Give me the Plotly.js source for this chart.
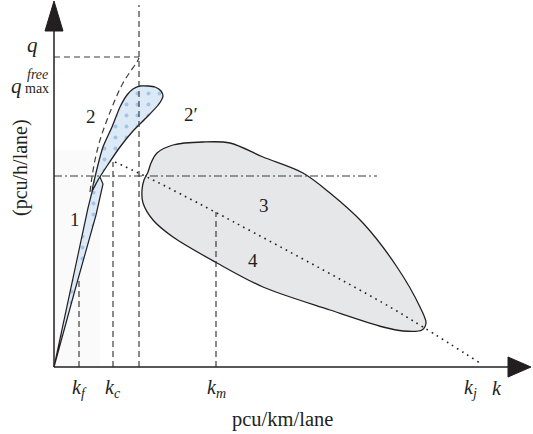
<!DOCTYPE html>
<html>
<head>
<meta charset="utf-8">
<script src="https://cdn.plot.ly/plotly-3.0.1.min.js"></script>
<style>
  html, body { margin: 0; padding: 0; background: #ffffff; }
  #chart { width: 533px; height: 434px; }
</style>
</head>
<body>
<div id="chart"></div>
<script>
// Density k (horizontal) and flow q (vertical), in the diagram's own units.

// Characteristic densities
const kF = 25;      // k_f
const kC = 59;      // k_c
const kQ = 85;      // density at the free-flow maximum
const kM = 162;     // k_m
const kJ = 416;     // k_j
// Characteristic flows
const qFreeMax = 310;   // q_max^free
const qCap = 191;       // capacity level (dash-dot)
// Upper ends of the vertical guide lines at kF, kC, kQ, kM
const guideTops = [90, 205, 362, 155];

// Region 1 (free-flow band)
const region1K = [0, 20, 34, 41, 46, 49, 42, 21, 0];
const region1Q = [0, 95, 159, 187, 190, 183, 152, 77, 0];

// Region 2 (metastable band)
const region2K = [38, 41, 49, 58, 66, 73, 79, 86, 94, 101, 107, 109, 105, 93, 79, 66, 53, 44, 38];
const region2Q = [176, 190, 220, 240, 260, 272, 278, 281, 281, 280, 276, 271, 263, 250, 236, 220, 201, 187, 176];

// Extension of the free-flow branch up to q_max^free
const freeBranchK = [36, 38, 41, 46, 53, 61, 69, 76, 83, 85];
const freeBranchQ = [175, 190, 207, 227, 247, 267, 284, 295, 305, 309];

// Regions 3 and 4 (congested cloud)
const congestedK = [88, 89, 99, 119, 163, 209, 276, 329, 349, 368, 372, 366, 343, 309, 276, 249, 209, 176, 149, 119, 103, 97, 94, 90, 88];
const congestedQ = [177, 164, 147, 130, 104, 80, 57, 40, 36, 37, 44, 60, 100, 144, 174, 194, 210, 224, 225, 222, 214, 204, 195, 187, 177];

// Congested branch (dotted)
const congBranchK = [61, 99, 161, 329, 369, 426];
const congBranchQ = [205, 187, 155, 64, 40, 4];

// Axis extents
const kAxisEnd = 454, kAxisTip = 477;
const qAxisEnd = 336, qAxisTip = 366;

// Text
const kTickLabels = ['<i>k</i><sub><i>f</i></sub>', '<i>k</i><sub><i>c</i></sub>', '<i>k</i><sub><i>m</i></sub>', '<i>k</i><sub><i>j</i></sub>', '<i>k</i>'];
const kTickPos = [kF, kC, kM, kJ, 443];
const regionLabels = ['1', '2', '2′', '3', '4'];
const regionLabelK = [21, 37, 137, 210, 199];
const regionLabelQ = [148, 251, 253, 162, 107];
const xTitle = 'pcu/km/lane';
const yTitle = '(pcu/h/lane)';

const INK = '#231f20';
const GUIDE = '#3c3c3c';
const FONT = 'Liberation Serif, Times New Roman, serif';
const BAND = { shape: '.', bgcolor: '#dce9f6', fgcolor: '#a3c4e8', size: 11, solidity: 0.1 };

const traces = [
  {
    x: congestedK, y: congestedQ, mode: 'lines', fill: 'toself',
    fillcolor: '#e6e7e9',
    line: { color: INK, width: 1.3, shape: 'spline', smoothing: 0.9 },
    hoverinfo: 'skip'
  },
  {
    x: region1K, y: region1Q, mode: 'lines', fill: 'toself',
    fillcolor: '#dce9f6', fillpattern: BAND,
    line: { color: INK, width: 1.2 },
    hoverinfo: 'skip'
  },
  {
    x: region2K, y: region2Q, mode: 'lines', fill: 'toself',
    fillcolor: '#dce9f6', fillpattern: BAND,
    line: { color: INK, width: 1.3, shape: 'spline', smoothing: 0.6 },
    hoverinfo: 'skip'
  },
  {
    x: freeBranchK, y: freeBranchQ, mode: 'lines',
    line: { color: GUIDE, width: 1.2, dash: '6px,4px', shape: 'spline' },
    hoverinfo: 'skip'
  },
  {
    x: congBranchK, y: congBranchQ, mode: 'lines',
    line: { color: INK, width: 1.6, dash: '1.6px,4.4px', shape: 'spline' },
    hoverinfo: 'skip'
  }
];

const shapes = [];
// faint shading of the free-flow zone
shapes.push({
  type: 'rect', xref: 'x', yref: 'y', x0: 0, x1: 46, y0: 0, y1: 217, layer: 'below',
  fillcolor: '#fafafa', line: { width: 0 }
});
const guideK = [kF, kC, kQ, kM];
guideK.forEach((k, i) => {
  shapes.push({
    type: 'line', xref: 'x', yref: 'y', x0: k, x1: k, y0: 0, y1: guideTops[i],
    line: { color: GUIDE, width: 1.2, dash: '6px,4px' }
  });
});
// q_max^free level
shapes.push({
  type: 'line', xref: 'x', yref: 'y', x0: 0, x1: kQ, y0: qFreeMax, y1: qFreeMax,
  line: { color: GUIDE, width: 1.2, dash: '6px,4px' }
});
// capacity level
shapes.push({
  type: 'line', xref: 'x', yref: 'y', x0: 0, x1: 323, y0: qCap, y1: qCap,
  line: { color: GUIDE, width: 1.2, dash: '8px,3px,2px,3px' }
});
// axes
shapes.push({ type: 'line', xref: 'x', yref: 'y', x0: 0, x1: kAxisEnd, y0: 0, y1: 0, line: { color: INK, width: 1.5 } });
shapes.push({ type: 'line', xref: 'x', yref: 'y', x0: 0, x1: 0, y0: 0, y1: qAxisEnd, line: { color: INK, width: 1.5 } });
shapes.push({
  type: 'path', xref: 'x', yref: 'y',
  path: `M ${kAxisEnd},-10 L ${kAxisTip},0 L ${kAxisEnd},10 Z`,
  fillcolor: INK, line: { color: INK, width: 1 }
});
shapes.push({
  type: 'path', xref: 'x', yref: 'y',
  path: `M -9,${qAxisEnd} L 0,${qAxisTip} L 9,${qAxisEnd} Z`,
  fillcolor: INK, line: { color: INK, width: 1 }
});

const annotations = [];
const txt = (x, y, text, size, extra) => Object.assign({
  x, y, xref: 'x', yref: 'y', text, showarrow: false,
  font: { family: FONT, size, color: INK }, xanchor: 'center', yanchor: 'middle'
}, extra || {});

kTickLabels.forEach((t, i) => annotations.push(txt(kTickPos[i], -21, t, 20)));
regionLabels.forEach((t, i) => annotations.push(txt(regionLabelK[i], regionLabelQ[i], t, 19)));
annotations.push(txt(-22, 322, '<i>q</i>', 21));
annotations.push(txt(-38, 281, '<i>q</i>', 21));
annotations.push(txt(-17, 293, '<i>free</i>', 14));
annotations.push(txt(-17, 279, 'max', 14));
annotations.push(txt(228, -52, xTitle, 20.5));
annotations.push(txt(-34, 199, yTitle, 20, { textangle: -90 }));

const layout = {
  width: 533, height: 434,
  margin: { l: 0, r: 0, t: 0, b: 0 },
  paper_bgcolor: '#ffffff', plot_bgcolor: '#ffffff',
  showlegend: false,
  xaxis: { range: [-54, 479], visible: false, fixedrange: true },
  yaxis: { range: [-67, 367], visible: false, fixedrange: true },
  shapes, annotations
};

Plotly.newPlot('chart', traces, layout, { displayModeBar: false, staticPlot: true });
</script>
</body>
</html>
